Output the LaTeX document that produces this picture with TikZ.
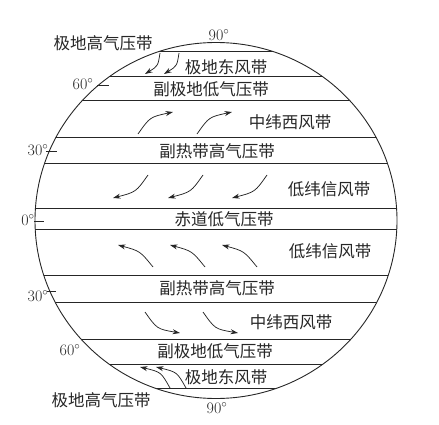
\documentclass[tikz,border=0pt]{standalone}
\usepackage{fontspec}
\newfontfamily\cjk{Noto Sans CJK SC}
\usetikzlibrary{arrows.meta}

\begin{document}
\begin{tikzpicture}[x=1pt,y=-1pt,line width=0.9pt,
    every node/.style={inner sep=0pt,text=black!85},
    belt/.style={font=\cjk\fontsize{16.5}{17}\selectfont},
    lat/.style={font=\fontsize{16}{16}\selectfont},
    wind/.style={black!85,line width=0.75pt,-{Stealth[length=7.5pt,width=5pt]}}]
    \useasboundingbox (0,0) rectangle (439,425);
    \coordinate (c) at (216,220.5);

    % earth and belt borders
    \draw[black!85] (c) ellipse [x radius=181, y radius=178];
    \begin{scope}
        \clip (c) ellipse [x radius=181, y radius=178];
        \foreach \y in {52,77,101,138,163,208,229,275,302,339,364,388}
            \draw[black!85,line width=1pt] (30,\y) -- (400,\y);
    \end{scope}

    % belts, north to south
    \node[belt]  (phigh-n)   at (103,43)   {极地高气压带};
    \node[belt]  (peast-n)   at (226,67)   {极地东风带};
    \node[belt]  (splow-n)   at (211,89)   {副极地低气压带};
    \node[belt]  (west-n)    at (290,122)  {中纬西风带};
    \node[belt]  (sthigh-n)  at (217,151)  {副热带高气压带};
    \node[belt]  (trade-n)   at (329,189)  {低纬信风带};
    \node[belt]  (eqlow)     at (224,219)  {赤道低气压带};
    \node[belt]  (trade-s)   at (330,251)  {低纬信风带};
    \node[belt]  (sthigh-s)  at (217,288)  {副热带高气压带};
    \node[belt]  (west-s)    at (291,322)  {中纬西风带};
    \node[belt]  (splow-s)   at (215,351)  {副极地低气压带};
    \node[belt]  (peast-s)   at (226,377)  {极地东风带};
    \node[belt]  (phigh-s)   at (101,400)  {极地高气压带};

    % latitudes
    \node[lat]   (lat90n)    at (219,35)   {90$^\circ$};
    \node[lat]   (lat60n)    at (83,84)    {60$^\circ$};
    \node[lat]   (lat30n)    at (38,150)   {30$^\circ$};
    \node[lat]   (lat0)      at (28,220)   {0$^\circ$};
    \node[lat]   (lat30s)    at (38,296)   {30$^\circ$};
    \node[lat]   (lat60s)    at (70,350)   {60$^\circ$};
    \node[lat]   (lat90s)    at (217,408)  {90$^\circ$};

    \draw[black!85,line width=0.6pt] ([xshift=3pt,yshift=-1pt]lat60n.east) -- ++(12,0);
    \draw[black!85,line width=0.6pt] ([xshift=-3pt,yshift=-1pt]lat30n.east) -- ++(11,0);
    \draw[black!85,line width=0.6pt] ([xshift=-1pt,yshift=-1pt]lat0.east) -- ++(10,0);
    \draw[black!85,line width=0.6pt] ([xshift=-2pt,yshift=5pt]lat30s.east) -- ++(9,0);

    % winds
    \foreach \dx in {0,19}
        \draw[wind] (160+\dx,53) .. controls (158+\dx,66) .. (145+\dx,74);
    \foreach \dx in {0,59}
        \draw[wind] (138+\dx,134) .. controls (150+\dx,117) .. (173+\dx,112);
    \foreach \dx in {0,55,119}
        \draw[wind] (148+\dx,175) .. controls (136+\dx,192) .. (113+\dx,198);
    \foreach \dx in {0,52,104}
        \draw[wind] (153+\dx,267) .. controls (140+\dx,251) .. (118+\dx,245);
    \foreach \dx in {0,58}
        \draw[wind] (145+\dx,312) .. controls (157+\dx,329) .. (180+\dx,333);
    \foreach \dx in {0,16}
        \draw[wind] (170+\dx,388) .. controls (161+\dx,372) .. (140+\dx,367);
\end{tikzpicture}
\end{document}
